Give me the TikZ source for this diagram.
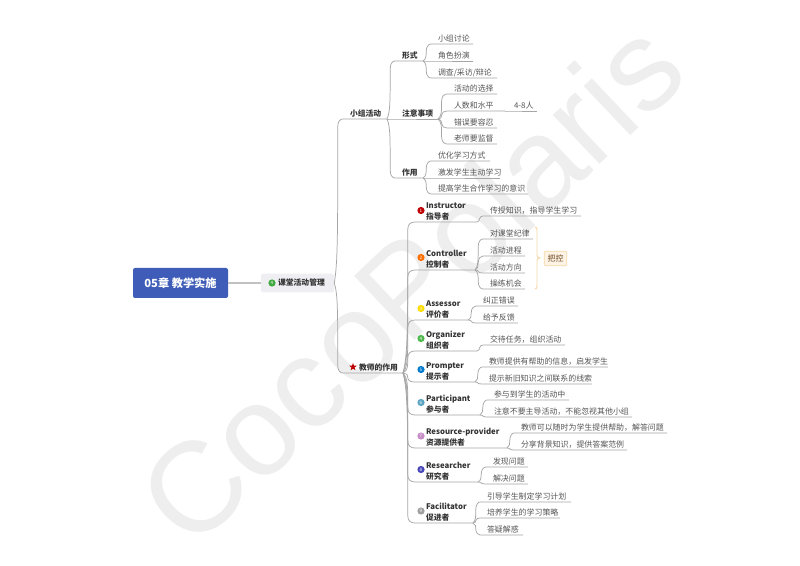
\documentclass[tikz,border=0pt]{standalone}
\usepackage{fontspec}
\setmainfont{Noto Sans CJK SC}
\newfontfamily\wmfont{Liberation Sans}
\usetikzlibrary{calc,shapes.geometric}
\definecolor{lineC}{HTML}{A6A6A6}
\definecolor{leafC}{HTML}{555555}
\definecolor{headC}{HTML}{333333}
\definecolor{wmC}{HTML}{EEEEEE}
\definecolor{rootC}{HTML}{3F5DB8}
\definecolor{classC}{HTML}{EEEEF3}
\definecolor{braceC}{HTML}{F6D9A8}
\definecolor{tagC}{HTML}{FDF4E6}
\tikzset{
  conn/.style={draw=lineC,line width=0.55pt},
  mmbase/.style={anchor=south west,inner xsep=0pt,inner ysep=2.2pt,outer sep=0pt,text depth=0pt},
  leaf/.style={mmbase,text=leafC,font=\fontsize{5.95}{8.25}\selectfont},
  head/.style={mmbase,text=headC,font=\fontsize{5.85}{8.25}\selectfont\bfseries},
  badge/.style={circle,inner sep=0pt,minimum size=5.4pt,text=white,font=\fontsize{3.4}{3.4}\selectfont},
  watermark/.style={text=wmC,font=\wmfont\fontsize{96}{96}\selectfont,inner sep=0pt},
}
\newcommand\mmconn[2]{%
  \draw[conn] let \p1=(#1), \p2=(#2.south west),
    \n1={0.4*(\x2-\x1)},
    \n3={(\y2>\y1 ? 1 : -1)*min(0.5*abs(\y2-\y1),5.5)} in
    (\p1) .. controls ({\x1+\n1},{\y1+0.12*(\y2-\y1)}) and ({\x1+\n1},{\y1+0.3*(\y2-\y1)}) ..
    ({\x1+\n1},{\y2-\n3}) .. controls ({\x1+\n1},{\y2-0.3*\n3}) and ({\x1+\n1+2},{\y2}) .. (\p2)
    -- (#2e);
}
\newcommand\mm[8]{%
  \pgfmathsetlengthmacro\mmW{0.75*(#5-#4)}%
  \pgfmathsetlengthmacro\mmP{0.75*#7}%
  \node[#1] (#2) at (#4,#6) {\makebox[\mmW][l]{\hspace*{\mmP}#8}};
  \coordinate (#2e) at (#2.south east);
  \mmconn{#3}{#2}
}
\begin{document}
\begin{tikzpicture}[x=0.75pt,y=-0.75pt]
\useasboundingbox (0,0) rectangle (800,566);
\fill[white] (0,0) rectangle (800,566);
\node[watermark,rotate=43.5] (wm) at (410,282) {CocoPolaris};

\node[fill=rootC,rounded corners=1.5pt,minimum width=71.25pt,minimum height=22.5pt,inner sep=0pt,text=white,font=\fontsize{8.4}{10}\selectfont\bfseries] (root) at (180.5,283) {05章 教学实施};
\node[fill=classC,rounded corners=1.5pt,minimum height=14pt,inner sep=0pt,text=headC,font=\fontsize{5.85}{8}\selectfont\bfseries] (cls) at (297.5,283) {\makebox[54.75pt][l]{\hspace*{12.8pt}课堂活动管理}};
\node[badge,fill=green!55!black!75] (clsicon) at (272,283) {4};
\draw[draw=lineC!70,line width=0.9pt] (root.east) -- (cls.west);

% group activity
\mm{head}{grp}{cls.east}{343}{387}{119}{7}{小组活动}
\mm{head}{xs}{grpe}{395}{423}{61}{7}{形式}
\mm{leaf}{xs1}{xse}{431}{473}{44}{7}{小组讨论}
\mm{leaf}{xs2}{xse}{431}{473}{61}{7}{角色扮演}
\mm{leaf}{xs3}{xse}{431}{497}{78}{7}{调查/采访/辩论}
\mm{head}{zy}{grpe}{395}{438}{119}{7}{注意事项}
\mm{leaf}{zy1}{zye}{447}{497}{94}{7}{活动的选择}
\mm{leaf}{zy2}{zye}{447}{505}{111}{7}{人数和水平}
\mm{leaf}{zy2b}{zy2e}{507}{537}{111}{7}{4-8人}
\mm{leaf}{zy3}{zye}{447}{497}{128}{7}{错误要容忍}
\mm{leaf}{zy4}{zye}{447}{497}{144}{7}{老师要监督}
\mm{head}{zuo}{grpe}{395}{423}{178}{7}{作用}
\mm{leaf}{zuo1}{zuoe}{431}{490}{161}{7}{优化学习方式}
\mm{leaf}{zuo2}{zuoe}{431}{500}{178}{7}{激发学生主动学习}
\mm{leaf}{zuo3}{zuoe}{431}{528}{194}{7}{提高学生合作学习的意识}

% teacher roles
\mm{head}{tea}{cls.east}{343}{403}{373}{16}{教师的作用}
\node[star,star points=5,star point ratio=2.4,fill=red!75!black,inner sep=0pt,minimum size=6pt] (teastar) at (353,367) {};

\newcommand\rolett[2]{\begin{tabular}[b]{@{}l@{}}#1\\#2\end{tabular}}
\newcommand\roleicon[4]{\node[badge,fill=#3] (#1icon) at (421,#2) {#4};}

\mm{head}{r1}{teae}{415}{477}{222}{11}{\rolett{Instructor}{指导者}}
\roleicon{r1}{210.5}{red!75!black}{1}
\mm{leaf}{r1a}{r1e}{483}{581}{216}{7}{传授知识，指导学生学习}

\mm{head}{r2}{teae}{415}{475}{270}{11}{\rolett{Controller}{控制者}}
\roleicon{r2}{257.5}{orange!85!red}{2}
\mm{leaf}{r2a}{r2e}{483}{533}{239}{7}{对课堂纪律}
\mm{leaf}{r2b}{r2e}{483}{525}{256}{7}{活动进程}
\mm{leaf}{r2c}{r2e}{483}{525}{273}{7}{活动方向}
\mm{leaf}{r2d}{r2e}{483}{525}{289}{7}{操练机会}
\coordinate (brtop) at (535,227);
\coordinate (brbot) at (535,289);
\draw[draw=braceC,line width=0.7pt] (brtop) .. controls (537,227) and (537,228) .. (537,231) -- (537,255) .. controls (537,257) and (538,258) .. (540,258) .. controls (538,258) and (537,259) .. (537,261) -- (537,285) .. controls (537,288) and (537,289) .. (brbot);
\node[draw=braceC,fill=tagC,rounded corners=1pt,line width=0.6pt,minimum width=17pt,minimum height=11pt,inner sep=0pt,text=headC!70!orange,font=\fontsize{5.95}{8}\selectfont] (bk) at (555.5,258.5) {把控};

\mm{head}{r3}{teae}{415}{468}{320}{11}{\rolett{Assessor}{评价者}}
\roleicon{r3}{308.5}{yellow!80!orange}{3}
\mm{leaf}{r3a}{r3e}{476}{518}{306}{7}{纠正错误}
\mm{leaf}{r3b}{r3e}{476}{518}{323}{7}{给予反馈}

\mm{head}{r4}{teae}{415}{477}{351}{11}{\rolett{Organizer}{组织者}}
\roleicon{r4}{338.5}{green!60!black!70}{4}
\mm{leaf}{r4a}{r4e}{483}{565}{345}{7}{交待任务，组织活动}

\mm{head}{r5}{teae}{415}{475}{382}{11}{\rolett{Prompter}{提示者}}
\roleicon{r5}{369.5}{blue!40!cyan!80!black}{5}
\mm{leaf}{r5a}{r5e}{482}{608}{367}{7}{教师提供有帮助的信息，启发学生}
\mm{leaf}{r5b}{r5e}{482}{592}{384}{7}{提示新旧知识之间联系的线索}

\mm{head}{r6}{teae}{415}{480}{415}{11}{\rolett{Participant}{参与者}}
\roleicon{r6}{402.5}{cyan!70!black!80}{6}
\mm{leaf}{r6a}{r6e}{487}{569}{400}{7}{参与到学生的活动中}
\mm{leaf}{r6b}{r6e}{487}{632}{417}{7}{注意不要主导活动，不能忽视其他小组}

\mm{head}{r7}{teae}{415}{507}{448}{11}{\rolett{Resource-provider}{资源提供者}}
\roleicon{r7}{436}{violet!45!white}{7}
\mm{leaf}{r7a}{r7e}{514}{667}{433}{7}{教师可以随时为学生提供帮助，解答问题}
\mm{leaf}{r7b}{r7e}{514}{627}{450}{7}{分享背景知识，提供答案范例}

\mm{head}{r8}{teae}{415}{478}{482}{11}{\rolett{Researcher}{研究者}}
\roleicon{r8}{469.5}{blue!45!gray}{8}
\mm{leaf}{r8a}{r8e}{486}{528}{467}{7}{发现问题}
\mm{leaf}{r8b}{r8e}{486}{528}{484}{7}{解决问题}

\mm{head}{r9}{teae}{415}{473}{523}{11}{\rolett{Facilitator}{促进者}}
\roleicon{r9}{511}{gray!75}{9}
\mm{leaf}{r9a}{r9e}{480}{571}{502}{7}{引导学生制定学习计划}
\mm{leaf}{r9b}{r9e}{480}{560}{518}{7}{培养学生的学习策略}
\mm{leaf}{r9c}{r9e}{480}{523}{535}{7}{答疑解惑}
\end{tikzpicture}
\end{document}
